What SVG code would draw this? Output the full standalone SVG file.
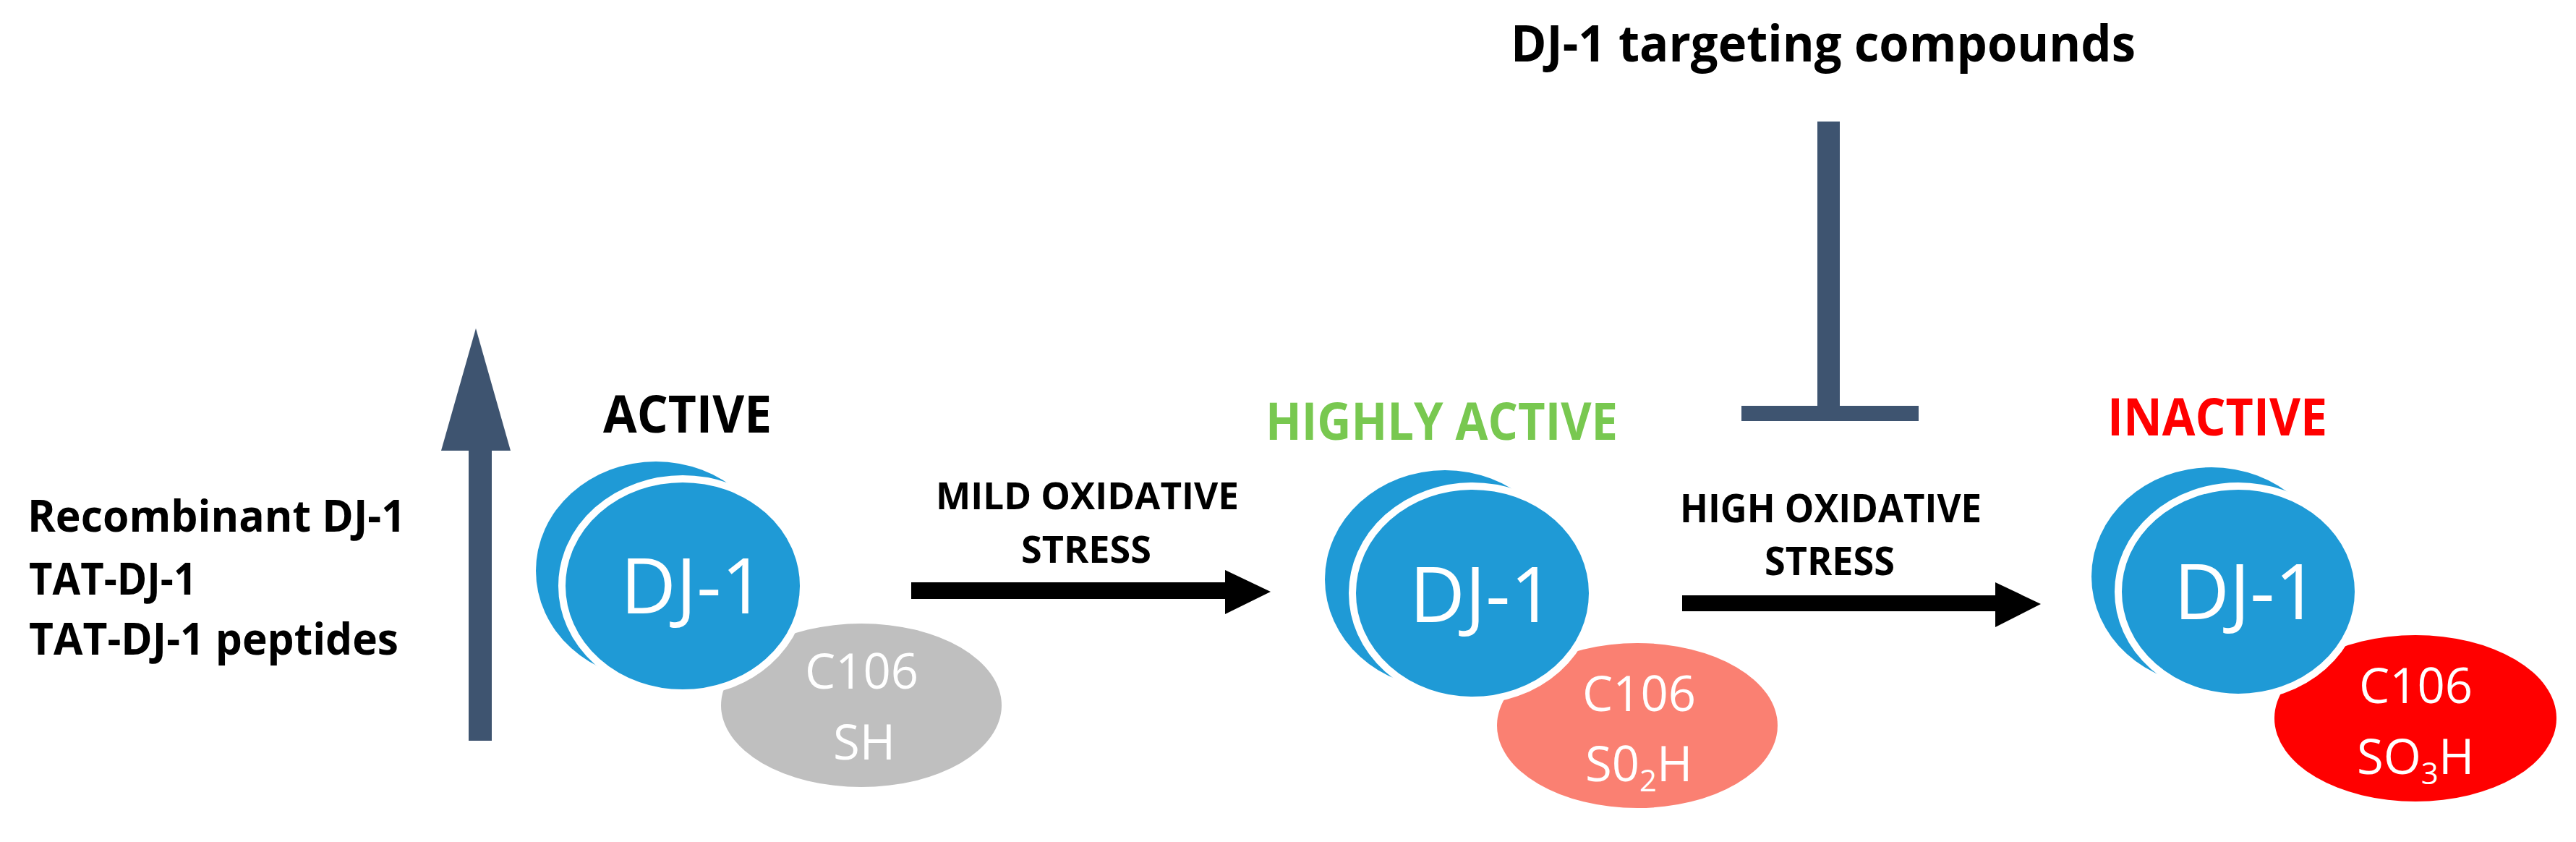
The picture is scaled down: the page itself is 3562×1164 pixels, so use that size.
<svg xmlns="http://www.w3.org/2000/svg" width="3562" height="1164" viewBox="0 0 3562 1164">
<style>
.bold{font-family:"Open Sans","Liberation Sans",sans-serif;font-weight:700;fill:#000}
.dj{font-family:"Open Sans","Liberation Sans",sans-serif;font-weight:400;font-size:106px;fill:#fff}
.res{font-family:"Open Sans","Liberation Sans",sans-serif;font-weight:400;font-size:67px;fill:#fff}
.back{fill:#1F9AD6}
.front{fill:#1F9AD6;stroke:#fff;stroke-width:10}
.slate{fill:#3E5470}
.blk{fill:#000}
</style>
<rect width="3562" height="1164" fill="#fff"/>
<g id="connectors">
  <g id="up-arrow">
    <rect class="slate" x="648" y="620" width="32" height="404"/>
    <polygon class="slate" points="658,454 706,623 610,623"/>
  </g>
  <g id="mild-arrow">
    <rect class="blk" x="1260" y="805" width="436" height="23"/>
    <polygon class="blk" points="1694,788 1757,818 1694,849"/>
  </g>
  <g id="high-arrow">
    <rect class="blk" x="2326" y="823" width="435" height="22"/>
    <polygon class="blk" points="2759,805 2822,835 2759,867"/>
  </g>
  <g id="inhibition">
    <rect class="slate" x="2513" y="168" width="31" height="400"/>
    <rect class="slate" x="2408" y="561" width="245" height="21"/>
  </g>
</g>
<g id="label-compounds">
  <text class="bold" x="2089" y="85" font-size="70" textLength="864" lengthAdjust="spacingAndGlyphs">DJ-1 targeting compounds</text>
</g>
<g id="label-treatments">
  <text class="bold" x="38" y="735" font-size="60" textLength="523" lengthAdjust="spacingAndGlyphs">Recombinant DJ-1</text>
  <text class="bold" x="40" y="822" font-size="60" textLength="232" lengthAdjust="spacingAndGlyphs">TAT-DJ-1</text>
  <text class="bold" x="40" y="905" font-size="60" textLength="511" lengthAdjust="spacingAndGlyphs">TAT-DJ-1 peptides</text>
</g>
<g id="label-mild">
  <text class="bold" x="1294" y="704" font-size="52" textLength="419" lengthAdjust="spacingAndGlyphs">MILD OXIDATIVE</text>
  <text class="bold" x="1412" y="778" font-size="52" textLength="180" lengthAdjust="spacingAndGlyphs">STRESS</text>
</g>
<g id="label-high">
  <text class="bold" x="2323" y="722" font-size="54" textLength="417" lengthAdjust="spacingAndGlyphs">HIGH OXIDATIVE</text>
  <text class="bold" x="2440" y="795" font-size="54" textLength="180" lengthAdjust="spacingAndGlyphs">STRESS</text>
</g>
<g id="node-active">
  <text class="bold" x="834" y="598" font-size="71" textLength="233" lengthAdjust="spacingAndGlyphs">ACTIVE</text>
  <ellipse class="back" cx="907" cy="789" rx="166" ry="151"/>
  <ellipse fill="#BFBFBF" cx="1191" cy="975" rx="194" ry="113"/>
  <ellipse class="front" cx="944" cy="810" rx="167" ry="148"/>
  <text class="dj" x="858" y="848" textLength="200" lengthAdjust="spacingAndGlyphs">DJ-1</text>
  <text class="res" x="1113" y="952">C106</text>
  <text class="res" x="1152" y="1050">SH</text>
</g>
<g id="node-highly-active">
  <text class="bold" x="1750" y="608" font-size="71" textLength="487" lengthAdjust="spacingAndGlyphs" style="fill:#78C850">HIGHLY ACTIVE</text>
  <ellipse class="back" cx="1998" cy="801" rx="166" ry="151"/>
  <ellipse fill="#FA8072" cx="2264" cy="1003" rx="194" ry="114"/>
  <ellipse class="front" cx="2036" cy="820" rx="166" ry="148"/>
  <text class="dj" x="1949" y="860" textLength="200" lengthAdjust="spacingAndGlyphs">DJ-1</text>
  <text class="res" x="2188" y="983">C106</text>
  <text class="res" x="2192" y="1080">S0<tspan font-size="42" dy="14">2</tspan><tspan dy="-14">H</tspan></text>
</g>
<g id="node-inactive">
  <text class="bold" x="2914" y="602" font-size="71" textLength="304" lengthAdjust="spacingAndGlyphs" style="fill:#FF0000">INACTIVE</text>
  <ellipse class="back" cx="3058" cy="797" rx="166" ry="151"/>
  <ellipse fill="#FF0000" cx="3340" cy="993" rx="195" ry="115"/>
  <ellipse class="front" cx="3095" cy="818" rx="166" ry="146"/>
  <text class="dj" x="3006" y="856" textLength="200" lengthAdjust="spacingAndGlyphs">DJ-1</text>
  <text class="res" x="3262" y="972">C106</text>
  <text class="res" x="3259" y="1070">SO<tspan font-size="42" dy="14">3</tspan><tspan dy="-14">H</tspan></text>
</g>
</svg>
